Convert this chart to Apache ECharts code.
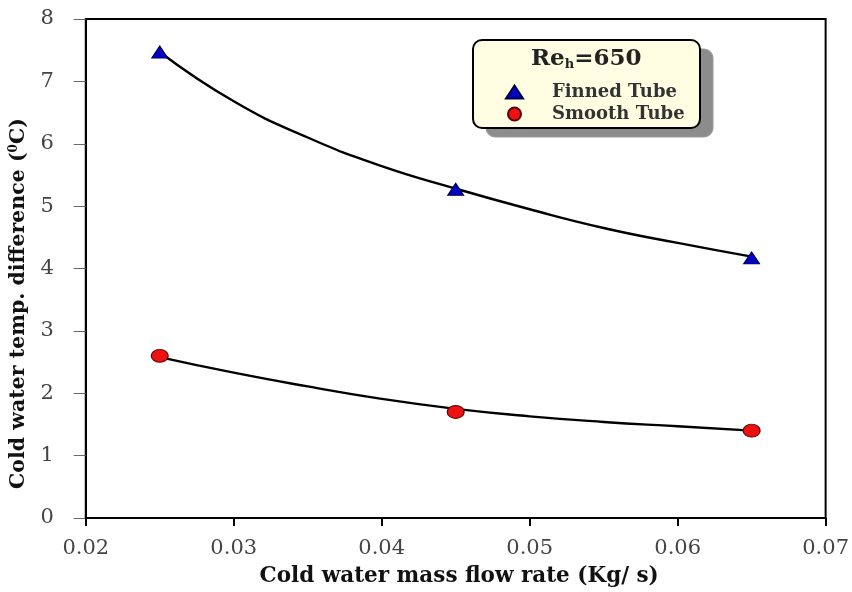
<!DOCTYPE html>
<html>
<head>
<meta charset="utf-8">
<script src="https://cdn.jsdelivr.net/npm/echarts@6/dist/echarts.min.js"></script>
<style>html,body{margin:0;padding:0;background:#fff;}#c{width:852px;height:592px;}</style>
</head>
<body>
<div id="c"></div>
<script>
// Measured points
const flowRate = [0.025, 0.045, 0.065];
const finnedTube = [7.47, 5.27, 4.17];
const smoothTube = [2.6, 1.7, 1.4];
// Trend curves
const fitX = [0.025, 0.03, 0.035, 0.04, 0.045, 0.05, 0.055, 0.06, 0.065];
const finnedFit = [7.47, 6.68, 6.10, 5.64, 5.28, 4.95, 4.65, 4.41, 4.19];
const smoothFit = [2.58, 2.33, 2.11, 1.91, 1.75, 1.63, 1.54, 1.47, 1.40];
const xTicks = [0.02, 0.03, 0.04, 0.05, 0.06, 0.07];
const yTicks = [0, 1, 2, 3, 4, 5, 6, 7, 8];

const pairs = (xs, ys) => xs.map((x, i) => [x, ys[i]]);
const serif = '"DejaVu Serif", "Liberation Serif", serif';

const chart = echarts.init(document.getElementById('c'));
chart.setOption({
  animation: false,
  backgroundColor: '#fff',
  grid: { left: 85, right: 26, top: 19, bottom: 70, show: true, borderColor: '#000', borderWidth: 2, backgroundColor: 'transparent' },
  xAxis: {
    type: 'value', min: xTicks[0], max: xTicks[xTicks.length - 1], interval: 0.01,
    axisLine: { show: true, lineStyle: { color: '#000', width: 2 } },
    axisTick: { show: true, inside: false, length: 8, lineStyle: { color: '#000', width: 2 } },
    splitLine: { show: false },
    axisLabel: { formatter: v => v.toFixed(2), fontFamily: serif, fontSize: 21, color: '#444', margin: 20 },
    name: 'Cold water mass flow rate (Kg/ s)', nameLocation: 'middle', nameGap: 47,
    nameTextStyle: { fontFamily: serif, fontWeight: 'bold', fontSize: 21.5, color: '#111', padding: [0, 0, 0, 7] }
  },
  yAxis: {
    type: 'value', min: yTicks[0], max: yTicks[yTicks.length - 1], interval: 1,
    axisLine: { show: true, lineStyle: { color: '#000', width: 2 } },
    axisTick: { show: true, inside: false, length: 12, lineStyle: { color: '#666', width: 1 } },
    splitLine: { show: false },
    axisLabel: { fontFamily: serif, fontSize: 21, color: '#444', margin: 32 },
    name: 'Cold water temp. difference ({sup|0}C)', nameLocation: 'middle', nameGap: 44, nameRotate: 90,
    nameTextStyle: { fontFamily: serif, fontWeight: 'bold', fontSize: 20.5, color: '#111', padding: [0, 70, 0, 0],
      rich: { sup: { fontFamily: serif, fontWeight: 'bold', fontSize: 12, color: '#111', padding: [0, 0, 10, 0] } } }
  },
  legend: {
    orient: 'vertical', left: 500, top: 78, itemGap: 4, itemWidth: 17, itemHeight: 13,
    data: ['Finned Tube', 'Smooth Tube'],
    textStyle: { fontFamily: serif, fontWeight: 'bold', fontSize: 18, color: '#333', padding: [0, 0, 0, 24] },
    z: 10
  },
  graphic: [
    { type: 'rect', z: 4, shape: { x: 486, y: 49, width: 227, height: 88, r: 9 },
      style: { fill: '#8c8c8c', stroke: '#9a9a9a', lineWidth: 1 } },
    { type: 'rect', z: 5, shape: { x: 473, y: 40, width: 227, height: 88, r: 9 },
      style: { fill: '#fffee2', stroke: '#000', lineWidth: 2 } },
    { type: 'text', z: 6, left: 531, top: 48,
      style: { text: '{a|Re}{b|h}{a|=650}', rich: {
        a: { fontFamily: serif, fontWeight: 'bold', fontSize: 23, fill: '#222' },
        b: { fontFamily: serif, fontWeight: 'bold', fontSize: 13, fill: '#222', padding: [11, 0, 0, 0] } } } }
  ],
  series: [
    { name: 'Finned fit', type: 'line', smooth: true, showSymbol: false, symbol: 'none', data: pairs(fitX, finnedFit),
      lineStyle: { color: '#000', width: 2.4 }, z: 2, silent: true },
    { name: 'Smooth fit', type: 'line', smooth: true, showSymbol: false, symbol: 'none', data: pairs(fitX, smoothFit),
      lineStyle: { color: '#000', width: 2.4 }, z: 2, silent: true },
    { name: 'Finned Tube', type: 'scatter', symbol: 'triangle', symbolSize: [16, 12], data: pairs(flowRate, finnedTube),
      itemStyle: { color: '#0000c8', borderColor: '#000040', borderWidth: 1, opacity: 1 }, z: 3 },
    { name: 'Smooth Tube', type: 'scatter', symbol: 'circle', symbolSize: [17, 13], data: pairs(flowRate, smoothTube),
      itemStyle: { color: '#ee1111', borderColor: '#550000', borderWidth: 1, opacity: 1 }, z: 3 }
  ]
});
</script>
</body>
</html>
